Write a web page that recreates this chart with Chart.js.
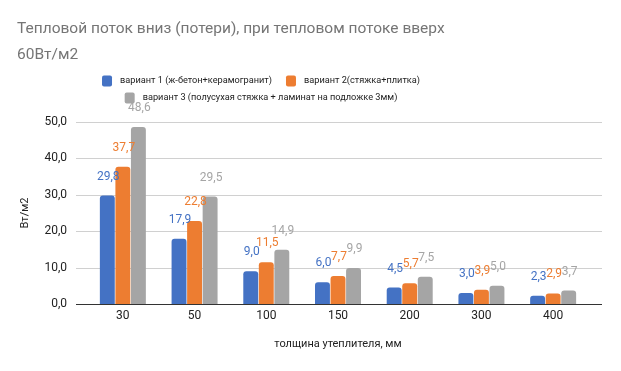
<!DOCTYPE html>
<html>
<head>
<meta charset="utf-8">
<script src="https://cdn.jsdelivr.net/npm/chart.js@4/dist/chart.umd.min.js"></script>
<style>
  html, body { margin:0; padding:0; background:#fff; }
  #wrap { position:relative; width:621px; height:371px; }
</style>
</head>
<body>
<div id="wrap"><canvas id="chart" width="621" height="371"></canvas></div>
<script>
// data
const categories = ["30", "50", "100", "150", "200", "300", "400"];
const seriesNames = [
  "вариант 1 (ж-бетон+керамогранит)",
  "вариант 2(стяжка+плитка)",
  "вариант 3 (полусухая стяжка + ламинат на подложке 3мм)"
];
const variant1 = [29.8, 17.9, 9.0, 6.0, 4.5, 3.0, 2.3];
const variant2 = [37.7, 22.8, 11.5, 7.7, 5.7, 3.9, 2.9];
const variant3 = [48.6, 29.5, 14.9, 9.9, 7.5, 5.0, 3.7];
const yTicks = [0, 10, 20, 30, 40, 50];

const titleLines = ["Тепловой поток вниз (потери), при тепловом потоке вверх", "60Вт/м2"];
const yTitle = "Вт/м2";
const xTitle = "толщина утеплителя, мм";

const colors = ["#4472C4", "#ED7D31", "#A5A5A5"];
const FONT = "Roboto, 'Noto Sans', sans-serif";

function fmt(v){ return v.toFixed(1).replace(".", ","); }

// ---------- plugins ----------
// gridlines span a bit wider than the bar area, like the original
const gridPlugin = {
  id: "wideGrid",
  beforeDatasetsDraw(chart){
    const {ctx, scales:{y}} = chart;
    const x0 = 76, x1 = 602;
    ctx.save();
    ctx.lineWidth = 1;
    for(const t of yTicks){
      const py = Math.round(y.getPixelForValue(t)) + 0.5;
      ctx.strokeStyle = t === 0 ? "#333333" : "#d0d0d0";
      ctx.beginPath(); ctx.moveTo(x0, py); ctx.lineTo(x1, py); ctx.stroke();
    }
    ctx.restore();
  }
};

const labelPlugin = {
  id: "valueLabels",
  afterDatasetsDraw(chart){
    const {ctx} = chart;
    ctx.save();
    ctx.font = "12px " + FONT;
    ctx.textAlign = "center";
    ctx.textBaseline = "middle";
    chart.data.datasets.forEach((ds, i) => {
      const meta = chart.getDatasetMeta(i);
      meta.data.forEach((bar, j) => {
        ctx.fillStyle = colors[i];
        ctx.fillText(fmt(ds.data[j]), bar.x + 1, bar.y - 19);
      });
    });
    ctx.restore();
  }
};

const legendPlugin = {
  id: "twoRowLegend",
  afterDraw(chart){
    const {ctx} = chart;
    const rows = [[0, 1], [2]];
    const rowY = [81, 98];
    const gap = 14, box = 10, textGap = 8;
    ctx.save();
    ctx.font = "9.2px " + FONT;
    ctx.textBaseline = "middle";
    rows.forEach((row, r) => {
      const widths = row.map(i => box + textGap + ctx.measureText(seriesNames[i]).width);
      const total = widths.reduce((a, b) => a + b, 0) + gap * (row.length - 1);
      let x = 261 - total / 2;
      row.forEach((i, k) => {
        ctx.fillStyle = colors[i];
        ctx.beginPath();
        ctx.roundRect(x, rowY[r] - 5.5, box, 11, 2);
        ctx.fill();
        ctx.fillStyle = "#222222";
        ctx.fillText(seriesNames[i], x + box + textGap, rowY[r]);
        x += widths[k] + gap;
      });
    });
    ctx.restore();
  }
};

// ---------- chart ----------
const datasets = [variant1, variant2, variant3].map((d, i) => ({
  label: seriesNames[i],
  data: d,
  backgroundColor: colors[i],
  borderRadius: {topLeft: 3, topRight: 3},
  borderSkipped: "bottom",
  categoryPercentage: 0.65,
  barPercentage: 0.96
}));

new Chart(document.getElementById("chart").getContext("2d"), {
  type: "bar",
  data: { labels: categories, datasets },
  options: {
    responsive: false,
    animation: false,
    layout: { padding: { left: 17, right: 32, top: 0, bottom: 18 } },
    plugins: {
      legend: { display: false },
      tooltip: { enabled: false },
      title: {
        display: true,
        text: titleLines,
        align: "start",
        color: "#757575",
        font: { family: FONT, size: 15.5, weight: "normal", lineHeight: 26/15.5 },
        padding: { top: 16, bottom: 54 }
      }
    },
    scales: {
      x: {
        grid: { display: false, drawTicks: false },
        border: { display: false },
        ticks: { color: "#222222", font: { family: FONT, size: 12 }, padding: 5 },
        title: {
          display: true, text: xTitle, color: "#222222",
          font: { family: FONT, size: 11 }, padding: { top: 0, bottom: 2 }
        },
        afterFit(s){ s.height = 49; }
      },
      y: {
        min: 0, max: 50,
        afterBuildTicks(s){ s.ticks = yTicks.map(v => ({value: v})); },
        grid: { display: false, drawTicks: false },
        border: { display: false },
        ticks: { color: "#222222", font: { family: FONT, size: 12 }, padding: 20, callback: v => fmt(v) },
        title: {
          display: true, text: yTitle, color: "#222222",
          font: { family: FONT, size: 11 }, padding: { top: 2, bottom: 0 }
        },
        afterFit(s){ s.width = 70; }
      }
    }
  },
  plugins: [gridPlugin, labelPlugin, legendPlugin]
});
</script>
</body>
</html>
